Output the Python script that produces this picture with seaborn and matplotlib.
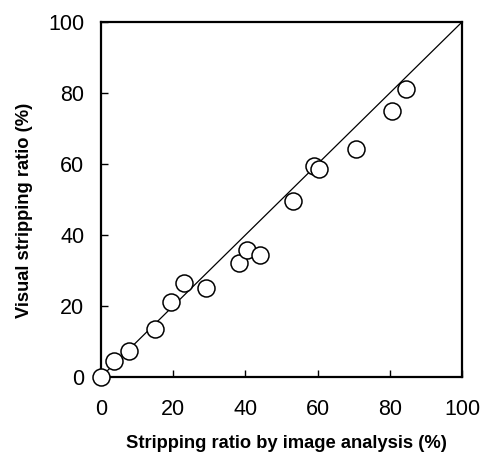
import matplotlib
matplotlib.use("Agg")
import matplotlib.pyplot as plt
import pandas as pd
import seaborn as sns

# image-analysis stripping ratio (%) vs visual stripping ratio (%)
image_ratio = [0.0, 3.6, 7.7, 15.0, 19.4, 22.9, 29.0, 38.1, 40.5, 44.0,
               53.1, 59.1, 60.4, 70.6, 80.7, 84.4]
visual_ratio = [0.0, 4.5, 7.4, 13.4, 21.2, 26.4, 25.2, 32.0, 35.8, 34.4,
                49.7, 59.4, 58.6, 64.2, 74.9, 81.2]
ref_line = [0, 100]  # 1:1 line
ticks = [0, 20, 40, 60, 80, 100]

df = pd.DataFrame({"image": image_ratio, "visual": visual_ratio})

sns.set_style("white")
plt.rcParams["font.family"] = ["Liberation Sans", "DejaVu Sans"]
plt.rcParams["text.color"] = "black"
plt.rcParams["axes.labelcolor"] = "black"
plt.rcParams["xtick.color"] = "black"
plt.rcParams["ytick.color"] = "black"

fig = plt.figure(figsize=(4.82, 4.53), dpi=100)
ax = fig.add_axes([0.2095, 0.1678, 0.749, 0.7836])

ax.plot(ref_line, ref_line, color="black", lw=0.9, zorder=2)
sns.scatterplot(data=df, x="image", y="visual", ax=ax, s=150, marker="o",
                facecolor="white", edgecolor="black", linewidth=1.1,
                zorder=5, clip_on=False)

ax.set_xlim(0, 100)
ax.set_ylim(0, 100)
ax.set_xticks(ticks)
ax.set_yticks(ticks)
ax.tick_params(direction="in", length=5, width=1, labelsize=15.5,
               top=False, right=False, left=True, bottom=True)
ax.tick_params(axis="x", pad=16)
ax.tick_params(axis="y", pad=12)
for sp in ax.spines.values():
    sp.set_visible(True)
    sp.set_linewidth(1.6)
    sp.set_color("black")

ax.set_xlabel("Stripping ratio by image analysis (%)", fontsize=13.2,
              fontweight="bold", labelpad=11)
ax.set_ylabel("Visual stripping ratio (%)", fontsize=13.2,
              fontweight="bold", labelpad=11)
ax.xaxis.label.set_x(0.515)
ax.yaxis.label.set_y(0.47)

fig.savefig("out.png", dpi=100)
